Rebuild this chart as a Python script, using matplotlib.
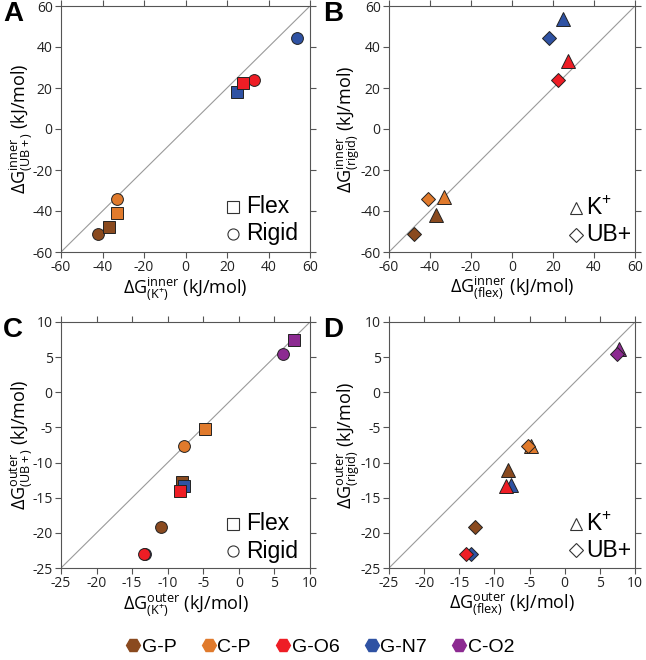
import numpy as np
import matplotlib
matplotlib.use("Agg")
import matplotlib.pyplot as plt
from matplotlib.lines import Line2D

plt.rcParams['font.family'] = ['Open Sans', 'DejaVu Sans']
plt.rcParams['mathtext.fontset'] = 'custom'
plt.rcParams['mathtext.rm'] = 'Open Sans'
plt.rcParams['mathtext.it'] = 'Open Sans'
plt.rcParams['axes.unicode_minus'] = False

# interaction names and colours (drawing order: G-O6 over G-N7 as in the figure)
inner_names = ["G-P", "C-P", "G-N7", "G-O6"]
outer_names = ["G-P", "C-P", "G-N7", "G-O6", "C-O2"]
legend_names = ["G-P", "C-P", "G-O6", "G-N7", "C-O2"]
colors = {"G-P": "#8a4a1f", "C-P": "#e07a2c", "G-O6": "#ee1d25",
          "G-N7": "#2f52a3", "C-O2": "#8c2a91"}

# inner sphere free energies (kJ/mol)
inner_flex_K = [-37, -33, 25, 27.5]
inner_flex_UB = [-48, -41, 18, 22.5]
inner_rigid_K = [-42, -33, 53.5, 33]
inner_rigid_UB = [-51, -34, 44.5, 24]

# outer sphere free energies (kJ/mol)
outer_flex_K = [-8, -4.8, -7.7, -8.3, 7.7]
outer_flex_UB = [-12.7, -5.2, -13.3, -14, 7.5]
outer_rigid_K = [-11, -7.7, -13.2, -13.3, 6.2]
outer_rigid_UB = [-19.2, -7.6, -23, -23, 5.5]

fig = plt.figure(figsize=(6.46, 6.60), dpi=100)
W, H = 646, 660


def add_ax(l, t, r, b):
    return fig.add_axes([l / W, 1 - b / H, (r - l) / W, (b - t) / H])


def style_ax(ax, lim, ticks):
    ax.set_xlim(lim)
    ax.set_ylim(lim)
    ax.set_xticks(ticks)
    ax.set_yticks(ticks)
    ax.plot(lim, lim, color="#9a9a9a", lw=0.8, zorder=1)
    ax.tick_params(direction="out", length=4, width=0.8, color="#555555",
                   top=True, right=True, labelsize=10, labelcolor="#222222", pad=2)
    for s in ax.spines.values():
        s.set_color("#555555")
        s.set_linewidth(0.8)


def scatter(ax, names, xs, ys, marker, ms):
    for n, x, y in zip(names, xs, ys):
        ax.plot(x, y, marker=marker, ms=ms, mfc=colors[n], mec="#222222",
                mew=0.7, ls="none", zorder=3)


def key(ax, xm, xt, items):
    for marker, ms, label, y in items:
        ax.plot(xm, y, marker=marker, ms=ms, mfc="white", mec="#333333",
                mew=0.8, transform=ax.transAxes, clip_on=False)
        ax.text(xt, y, label, transform=ax.transAxes, va="center", ha="left",
                fontsize=16.5, family="Liberation Sans")


def lab(kind, sub):
    return r"$\Delta\mathrm{G}^{\mathrm{%s}}_{\mathrm{%s}}$ (kJ/mol)" % (kind, sub)


inner_lim = (-60, 60)
inner_ticks = np.arange(-60, 61, 20)
outer_lim = (-25, 10)
outer_ticks = np.arange(-25, 11, 5)
LS = 13

# panel A
axA = add_ax(61, 6, 310, 252)
style_ax(axA, inner_lim, inner_ticks)
scatter(axA, inner_names, inner_rigid_K, inner_rigid_UB, "o", 8.5)
scatter(axA, inner_names, inner_flex_K, inner_flex_UB, "s", 8.5)
key(axA, 0.69, 0.745, [("s", 8, "Flex", 0.183), ("o", 8, "Rigid", 0.075)])
axA.set_xlabel(lab("inner", r"(K^{+})"), fontsize=LS, labelpad=0)
axA.set_ylabel(lab("inner", "(UB+)"), fontsize=LS, labelpad=-1)

# panel B
axB = add_ax(389, 6, 635, 252)
style_ax(axB, inner_lim, inner_ticks)
scatter(axB, inner_names, inner_flex_K, inner_rigid_K, "^", 9.5)
scatter(axB, inner_names, inner_flex_UB, inner_rigid_UB, "D", 7.5)
key(axB, 0.76, 0.8, [("^", 9, r"K$^{+}$", 0.18), ("D", 7, "UB+", 0.07)])
axB.set_xlabel(lab("inner", "(flex)"), fontsize=LS, labelpad=0)
axB.set_ylabel(lab("inner", "(rigid)"), fontsize=LS, labelpad=-1)

# panel C
axC = add_ax(61, 322, 310, 568)
style_ax(axC, outer_lim, outer_ticks)
scatter(axC, outer_names, outer_rigid_K, outer_rigid_UB, "o", 8.5)
scatter(axC, outer_names, outer_flex_K, outer_flex_UB, "s", 8.5)
key(axC, 0.69, 0.745, [("s", 8, "Flex", 0.18), ("o", 8, "Rigid", 0.068)])
axC.set_xlabel(lab("outer", r"(K^{+})"), fontsize=LS, labelpad=0)
axC.set_ylabel(lab("outer", "(UB+)"), fontsize=LS, labelpad=-1)

# panel D
axD = add_ax(389, 322, 635, 568)
style_ax(axD, outer_lim, outer_ticks)
scatter(axD, outer_names, outer_flex_K, outer_rigid_K, "^", 9.5)
scatter(axD, outer_names, outer_flex_UB, outer_rigid_UB, "D", 7.5)
key(axD, 0.76, 0.8, [("^", 9, r"K$^{+}$", 0.18), ("D", 7, "UB+", 0.073)])
axD.set_xlabel(lab("outer", "(flex)"), fontsize=LS, labelpad=0)
axD.set_ylabel(lab("outer", "(rigid)"), fontsize=LS, labelpad=-1)

# panel letters
for x, y, t in [(3, 1, "A"), (323, 1, "B"), (3, 317, "C"), (323, 317, "D")]:
    fig.text(x / W, 1 - y / H, t, fontsize=20, fontweight="bold",
             family="Liberation Sans", va="top", ha="left")

# colour legend at the bottom
handles = [Line2D([], [], marker="H", ms=10, color=colors[n], ls="none")
           for n in legend_names]
fig.legend(handles, legend_names, loc="center", bbox_to_anchor=(0.49, 1 - 647 / H),
           ncol=5, frameon=False, handletextpad=-0.3, columnspacing=0.9,
           handlelength=1.5, prop={"family": "Liberation Sans", "size": 14})

fig.savefig("out.png", dpi=100)
